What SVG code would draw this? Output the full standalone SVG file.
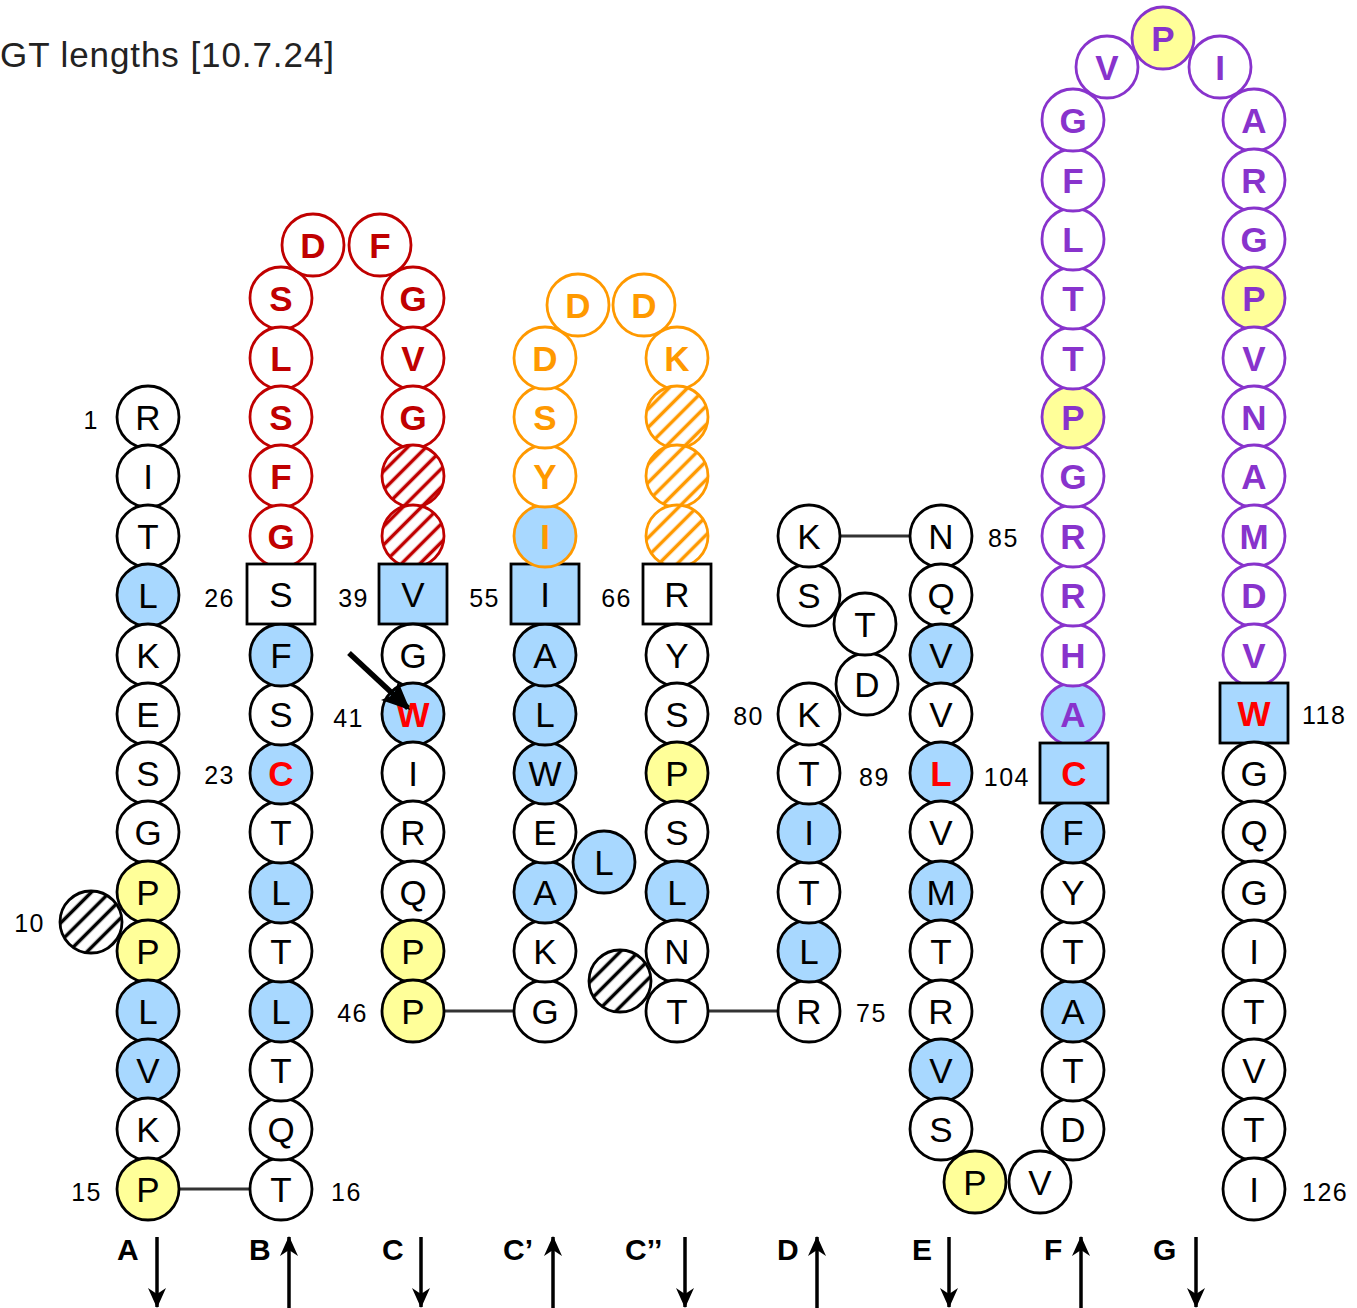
<svg xmlns="http://www.w3.org/2000/svg" width="1357" height="1308" viewBox="0 0 1357 1308">
<style>
text{font-family:"Liberation Sans",Arial,sans-serif}
.n circle,.n rect{stroke:#000;stroke-width:2.8;fill:#fff}
.n .fb{fill:#a8d8ff}
.n .fy{fill:#ffff99}
.n .sr{stroke:#c00000}
.n .so{stroke:#ff9900}
.n .sp{stroke:#8833cc}
.n .hk{fill:url(#hk)}
.n .hr{fill:url(#hr)}
.n .ho{fill:url(#ho)}
.n text{font-size:35px;text-anchor:middle;fill:#000}
.n .tr{fill:#ff0000;font-weight:bold}
.n .tc{fill:#c00000;font-weight:bold}
.n .to{fill:#ff9900;font-weight:bold}
.n .tp{fill:#8833cc;font-weight:bold}
.lab{font-size:25px;letter-spacing:1.5px;fill:#000}
.st{font-size:30px;font-weight:bold;fill:#000}
.cn{stroke:#333;stroke-width:3}
.ar{stroke:#000;stroke-width:3.5}
</style>
<defs>
<pattern id="hk" width="13" height="13" patternUnits="userSpaceOnUse" patternTransform="rotate(45)"><rect width="13" height="13" fill="#fff"/><line x1="6.5" y1="0" x2="6.5" y2="13" stroke="#000" stroke-width="3.5"/></pattern>
<pattern id="hr" width="13" height="13" patternUnits="userSpaceOnUse" patternTransform="rotate(45)"><rect width="13" height="13" fill="#fff"/><line x1="6.5" y1="0" x2="6.5" y2="13" stroke="#c00000" stroke-width="3.5"/></pattern>
<pattern id="ho" width="13" height="13" patternUnits="userSpaceOnUse" patternTransform="rotate(45)"><rect width="13" height="13" fill="#fff"/><line x1="6.5" y1="0" x2="6.5" y2="13" stroke="#ff9900" stroke-width="3.5"/></pattern>
<marker id="ah" viewBox="0 0 20 20" refX="19" refY="10" markerWidth="20" markerHeight="20" markerUnits="userSpaceOnUse" orient="auto"><path d="M0,1 L20,10 L0,19 L6,10 z" fill="#000"/></marker>
<marker id="ahb" viewBox="0 0 20 20" refX="18" refY="10" markerWidth="28" markerHeight="28" markerUnits="userSpaceOnUse" orient="auto"><path d="M0,1 L20,10 L0,19 L4,10 z" fill="#000"/></marker>
</defs>
<rect width="1357" height="1308" fill="#fff"/>
<text x="0" y="67" font-size="35" textLength="334" fill="#222">GT lengths [10.7.24]</text>

<g id="connectors">
<line class="cn" x1="179" y1="1189" x2="250" y2="1189"/>
<line class="cn" x1="444" y1="1011" x2="514" y2="1011"/>
<line class="cn" x1="708" y1="1011" x2="778" y2="1011"/>
<line class="cn" x1="840" y1="536" x2="910" y2="536"/>
</g>

<g id="strand-arrows">
<line class="ar" x1="157" y1="1237" x2="157" y2="1307" marker-end="url(#ah)"/>
<line class="ar" x1="289" y1="1308" x2="289" y2="1237" marker-end="url(#ah)"/>
<line class="ar" x1="421" y1="1237" x2="421" y2="1307" marker-end="url(#ah)"/>
<line class="ar" x1="553" y1="1308" x2="553" y2="1237" marker-end="url(#ah)"/>
<line class="ar" x1="685" y1="1237" x2="685" y2="1307" marker-end="url(#ah)"/>
<line class="ar" x1="817" y1="1308" x2="817" y2="1237" marker-end="url(#ah)"/>
<line class="ar" x1="949" y1="1237" x2="949" y2="1307" marker-end="url(#ah)"/>
<line class="ar" x1="1081" y1="1308" x2="1081" y2="1237" marker-end="url(#ah)"/>
<line class="ar" x1="1196" y1="1237" x2="1196" y2="1307" marker-end="url(#ah)"/>
<text class="st" x="117" y="1260">A</text>
<text class="st" x="249" y="1260">B</text>
<text class="st" x="382" y="1260">C</text>
<text class="st" x="503" y="1260">C’</text>
<text class="st" x="625" y="1260">C’’</text>
<text class="st" x="777" y="1260">D</text>
<text class="st" x="912" y="1260">E</text>
<text class="st" x="1044" y="1260">F</text>
<text class="st" x="1153" y="1260">G</text>
</g>

<g id="labels">
<text class="lab" x="99" y="429" text-anchor="end">1</text>
<text class="lab" x="235" y="607" text-anchor="end">26</text>
<text class="lab" x="235" y="784" text-anchor="end">23</text>
<text class="lab" x="45" y="932" text-anchor="end">10</text>
<text class="lab" x="102" y="1201" text-anchor="end">15</text>
<text class="lab" x="331" y="1201">16</text>
<text class="lab" x="369" y="607" text-anchor="end">39</text>
<text class="lab" x="364" y="727" text-anchor="end">41</text>
<text class="lab" x="368" y="1022" text-anchor="end">46</text>
<text class="lab" x="500" y="607" text-anchor="end">55</text>
<text class="lab" x="632" y="607" text-anchor="end">66</text>
<text class="lab" x="764" y="725" text-anchor="end">80</text>
<text class="lab" x="856" y="1022">75</text>
<text class="lab" x="859" y="786">89</text>
<text class="lab" x="1030" y="786" text-anchor="end">104</text>
<text class="lab" x="988" y="547">85</text>
<text class="lab" x="1302" y="724">118</text>
<text class="lab" x="1302" y="1201">126</text>
</g>

<g id="strand-A" class="n">
<g id="A1"><circle cx="148" cy="417" r="31"/><text x="148" y="430">R</text></g>
<g id="A2"><circle cx="148" cy="476" r="31"/><text x="148" y="489">I</text></g>
<g id="A3"><circle cx="148" cy="536" r="31"/><text x="148" y="549">T</text></g>
<g id="A4"><circle class="fb" cx="148" cy="595" r="31"/><text x="148" y="608">L</text></g>
<g id="A5"><circle cx="148" cy="655" r="31"/><text x="148" y="668">K</text></g>
<g id="A6"><circle cx="148" cy="714" r="31"/><text x="148" y="727">E</text></g>
<g id="A7"><circle cx="148" cy="773" r="31"/><text x="148" y="786">S</text></g>
<g id="A8"><circle cx="148" cy="832" r="31"/><text x="148" y="845">G</text></g>
<g id="A10gap"><circle class="hk" cx="91" cy="922" r="31"/></g>
<g id="A9"><circle class="fy" cx="148" cy="892" r="31"/><text x="148" y="905">P</text></g>
<g id="A11"><circle class="fy" cx="148" cy="951" r="31"/><text x="148" y="964">P</text></g>
<g id="A12"><circle class="fb" cx="148" cy="1011" r="31"/><text x="148" y="1024">L</text></g>
<g id="A13"><circle class="fb" cx="148" cy="1070" r="31"/><text x="148" y="1083">V</text></g>
<g id="A14"><circle cx="148" cy="1129" r="31"/><text x="148" y="1142">K</text></g>
<g id="A15"><circle class="fy" cx="148" cy="1189" r="31"/><text x="148" y="1202">P</text></g>
</g>

<g id="strand-B" class="n">
<g id="B16"><circle cx="281" cy="1189" r="31"/><text x="281" y="1202">T</text></g>
<g id="B17"><circle cx="281" cy="1129" r="31"/><text x="281" y="1142">Q</text></g>
<g id="B18"><circle cx="281" cy="1070" r="31"/><text x="281" y="1083">T</text></g>
<g id="B19"><circle class="fb" cx="281" cy="1011" r="31"/><text x="281" y="1024">L</text></g>
<g id="B20"><circle cx="281" cy="951" r="31"/><text x="281" y="964">T</text></g>
<g id="B21"><circle class="fb" cx="281" cy="892" r="31"/><text x="281" y="905">L</text></g>
<g id="B22"><circle cx="281" cy="832" r="31"/><text x="281" y="845">T</text></g>
<g id="B23"><circle class="fb" cx="281" cy="773" r="31"/><text class="tr" x="281" y="786">C</text></g>
<g id="B24"><circle cx="281" cy="714" r="31"/><text x="281" y="727">S</text></g>
<g id="B25"><circle class="fb" cx="281" cy="655" r="31"/><text x="281" y="668">F</text></g>
</g>

<g id="cdr1" class="n">
<g id="R1"><circle class="sr" cx="281" cy="298" r="31"/><text class="tc" x="281" y="311">S</text></g>
<g id="R2"><circle class="sr" cx="281" cy="358" r="31"/><text class="tc" x="281" y="371">L</text></g>
<g id="R3"><circle class="sr" cx="281" cy="417" r="31"/><text class="tc" x="281" y="430">S</text></g>
<g id="R4"><circle class="sr" cx="281" cy="476" r="31"/><text class="tc" x="281" y="489">F</text></g>
<g id="R5"><circle class="sr" cx="281" cy="536" r="31"/><text class="tc" x="281" y="549">G</text></g>
<g id="R6"><circle class="sr" cx="313" cy="245" r="31"/><text class="tc" x="313" y="258">D</text></g>
<g id="R7"><circle class="sr" cx="380" cy="245" r="31"/><text class="tc" x="380" y="258">F</text></g>
<g id="R8"><circle class="sr" cx="413" cy="298" r="31"/><text class="tc" x="413" y="311">G</text></g>
<g id="R9"><circle class="sr" cx="413" cy="358" r="31"/><text class="tc" x="413" y="371">V</text></g>
<g id="R10"><circle class="sr" cx="413" cy="417" r="31"/><text class="tc" x="413" y="430">G</text></g>
<g id="R11"><circle class="sr hr" cx="413" cy="476" r="31"/></g>
<g id="R12"><circle class="sr hr" cx="413" cy="536" r="31"/></g>
</g>

<g id="B26"><g class="n"><rect x="247" y="564" width="68" height="60"/><text x="281" y="607">S</text></g></g>

<g id="strand-C" class="n">
<g id="C39"><rect class="fb" x="379" y="564" width="68" height="60"/><text x="413" y="607">V</text></g>
<g id="C40"><circle cx="413" cy="655" r="31"/><text x="413" y="668">G</text></g>
<g id="C41"><circle class="fb" cx="413" cy="714" r="31"/><text class="tr" x="413" y="727">W</text></g>
<g id="C42"><circle cx="413" cy="773" r="31"/><text x="413" y="786">I</text></g>
<g id="C43"><circle cx="413" cy="832" r="31"/><text x="413" y="845">R</text></g>
<g id="C44"><circle cx="413" cy="892" r="31"/><text x="413" y="905">Q</text></g>
<g id="C45"><circle class="fy" cx="413" cy="951" r="31"/><text x="413" y="964">P</text></g>
<g id="C46"><circle class="fy" cx="413" cy="1011" r="31"/><text x="413" y="1024">P</text></g>
</g>

<g id="strand-Cp" class="n">
<g id="Cp47"><circle cx="545" cy="1011" r="31"/><text x="545" y="1024">G</text></g>
<g id="Cp48"><circle cx="545" cy="951" r="31"/><text x="545" y="964">K</text></g>
<g id="Cp49"><circle class="fb" cx="545" cy="892" r="31"/><text x="545" y="905">A</text></g>
<g id="Cp50"><circle cx="545" cy="832" r="31"/><text x="545" y="845">E</text></g>
<g id="Cp49a"><circle class="fb" cx="604" cy="862" r="31"/><text x="604" y="875">L</text></g>
<g id="Cp51"><circle class="fb" cx="545" cy="773" r="31"/><text x="545" y="786">W</text></g>
<g id="Cp52"><circle class="fb" cx="545" cy="714" r="31"/><text x="545" y="727">L</text></g>
<g id="Cp53"><circle class="fb" cx="545" cy="655" r="31"/><text x="545" y="668">A</text></g>
<g id="Cp55"><rect class="fb" x="511" y="564" width="68" height="60"/><text x="545" y="607">I</text></g>
</g>

<g id="cdr2" class="n">
<g id="O1"><circle class="so fb" cx="545" cy="536" r="31"/><text class="to" x="545" y="549">I</text></g>
<g id="O2"><circle class="so" cx="545" cy="476" r="31"/><text class="to" x="545" y="489">Y</text></g>
<g id="O3"><circle class="so" cx="545" cy="417" r="31"/><text class="to" x="545" y="430">S</text></g>
<g id="O4"><circle class="so" cx="545" cy="358" r="31"/><text class="to" x="545" y="371">D</text></g>
<g id="O5"><circle class="so" cx="578" cy="305" r="31"/><text class="to" x="578" y="318">D</text></g>
<g id="O6"><circle class="so" cx="644" cy="305" r="31"/><text class="to" x="644" y="318">D</text></g>
<g id="O7"><circle class="so" cx="677" cy="358" r="31"/><text class="to" x="677" y="371">K</text></g>
<g id="O8"><circle class="so ho" cx="677" cy="417" r="31"/></g>
<g id="O9"><circle class="so ho" cx="677" cy="476" r="31"/></g>
<g id="O10"><circle class="so ho" cx="677" cy="536" r="31"/></g>
</g>

<g id="strand-Cpp" class="n">
<g id="Cpp66"><rect x="643" y="564" width="68" height="60"/><text x="677" y="607">R</text></g>
<g id="Cpp67"><circle cx="677" cy="655" r="31"/><text x="677" y="668">Y</text></g>
<g id="Cpp68"><circle cx="677" cy="714" r="31"/><text x="677" y="727">S</text></g>
<g id="Cpp69"><circle class="fy" cx="677" cy="773" r="31"/><text x="677" y="786">P</text></g>
<g id="Cpp70"><circle cx="677" cy="832" r="31"/><text x="677" y="845">S</text></g>
<g id="Cpp71"><circle class="fb" cx="677" cy="892" r="31"/><text x="677" y="905">L</text></g>
<g id="Cpp72"><circle cx="677" cy="951" r="31"/><text x="677" y="964">N</text></g>
<g id="Cpp73"><circle class="hk" cx="620" cy="981" r="31"/></g>
<g id="Cpp74"><circle cx="677" cy="1011" r="31"/><text x="677" y="1024">T</text></g>
</g>

<g id="strand-D" class="n">
<g id="D75"><circle cx="809" cy="1011" r="31"/><text x="809" y="1024">R</text></g>
<g id="D76"><circle class="fb" cx="809" cy="951" r="31"/><text x="809" y="964">L</text></g>
<g id="D77"><circle cx="809" cy="892" r="31"/><text x="809" y="905">T</text></g>
<g id="D78"><circle class="fb" cx="809" cy="832" r="31"/><text x="809" y="845">I</text></g>
<g id="D79"><circle cx="809" cy="773" r="31"/><text x="809" y="786">T</text></g>
<g id="D80"><circle cx="809" cy="714" r="31"/><text x="809" y="727">K</text></g>
<g id="D81"><circle cx="867" cy="684" r="31"/><text x="867" y="697">D</text></g>
<g id="D82"><circle cx="865" cy="624" r="31"/><text x="865" y="637">T</text></g>
<g id="D83"><circle cx="809" cy="595" r="31"/><text x="809" y="608">S</text></g>
<g id="D84"><circle cx="809" cy="536" r="31"/><text x="809" y="549">K</text></g>
</g>

<g id="strand-E" class="n">
<g id="E85"><circle cx="941" cy="536" r="31"/><text x="941" y="549">N</text></g>
<g id="E86"><circle cx="941" cy="595" r="31"/><text x="941" y="608">Q</text></g>
<g id="E87"><circle class="fb" cx="941" cy="655" r="31"/><text x="941" y="668">V</text></g>
<g id="E88"><circle cx="941" cy="714" r="31"/><text x="941" y="727">V</text></g>
<g id="E89"><circle class="fb" cx="941" cy="773" r="31"/><text class="tr" x="941" y="786">L</text></g>
<g id="E90"><circle cx="941" cy="832" r="31"/><text x="941" y="845">V</text></g>
<g id="E91"><circle class="fb" cx="941" cy="892" r="31"/><text x="941" y="905">M</text></g>
<g id="E92"><circle cx="941" cy="951" r="31"/><text x="941" y="964">T</text></g>
<g id="E93"><circle cx="941" cy="1011" r="31"/><text x="941" y="1024">R</text></g>
<g id="E94"><circle class="fb" cx="941" cy="1070" r="31"/><text x="941" y="1083">V</text></g>
<g id="E95"><circle cx="941" cy="1129" r="31"/><text x="941" y="1142">S</text></g>
<g id="E96"><circle class="fy" cx="975" cy="1182" r="31"/><text x="975" y="1195">P</text></g>
<g id="E97"><circle cx="1040" cy="1182" r="31"/><text x="1040" y="1195">V</text></g>
</g>

<g id="strand-F" class="n">
<g id="F98"><circle cx="1073" cy="1129" r="31"/><text x="1073" y="1142">D</text></g>
<g id="F99"><circle cx="1073" cy="1070" r="31"/><text x="1073" y="1083">T</text></g>
<g id="F100"><circle class="fb" cx="1073" cy="1011" r="31"/><text x="1073" y="1024">A</text></g>
<g id="F101"><circle cx="1073" cy="951" r="31"/><text x="1073" y="964">T</text></g>
<g id="F102"><circle cx="1073" cy="892" r="31"/><text x="1073" y="905">Y</text></g>
<g id="F103"><circle class="fb" cx="1073" cy="832" r="31"/><text x="1073" y="845">F</text></g>
</g>

<g id="cdr3" class="n">
<g id="P1"><circle class="sp fb" cx="1073" cy="714" r="31"/><text class="tp" x="1073" y="727">A</text></g>
<g id="P2"><circle class="sp" cx="1073" cy="655" r="31"/><text class="tp" x="1073" y="668">H</text></g>
<g id="P3"><circle class="sp" cx="1073" cy="595" r="31"/><text class="tp" x="1073" y="608">R</text></g>
<g id="P4"><circle class="sp" cx="1073" cy="536" r="31"/><text class="tp" x="1073" y="549">R</text></g>
<g id="P5"><circle class="sp" cx="1073" cy="476" r="31"/><text class="tp" x="1073" y="489">G</text></g>
<g id="P6"><circle class="sp fy" cx="1073" cy="417" r="31"/><text class="tp" x="1073" y="430">P</text></g>
<g id="P7"><circle class="sp" cx="1073" cy="358" r="31"/><text class="tp" x="1073" y="371">T</text></g>
<g id="P8"><circle class="sp" cx="1073" cy="298" r="31"/><text class="tp" x="1073" y="311">T</text></g>
<g id="P9"><circle class="sp" cx="1073" cy="239" r="31"/><text class="tp" x="1073" y="252">L</text></g>
<g id="P10"><circle class="sp" cx="1073" cy="180" r="31"/><text class="tp" x="1073" y="193">F</text></g>
<g id="P11"><circle class="sp" cx="1073" cy="120" r="31"/><text class="tp" x="1073" y="133">G</text></g>
<g id="P12"><circle class="sp" cx="1107" cy="67" r="31"/><text class="tp" x="1107" y="80">V</text></g>
<g id="P13"><circle class="sp fy" cx="1163" cy="38" r="31"/><text class="tp" x="1163" y="51">P</text></g>
<g id="P14"><circle class="sp" cx="1220" cy="67" r="31"/><text class="tp" x="1220" y="80">I</text></g>
<g id="P15"><circle class="sp" cx="1254" cy="120" r="31"/><text class="tp" x="1254" y="133">A</text></g>
<g id="P16"><circle class="sp" cx="1254" cy="180" r="31"/><text class="tp" x="1254" y="193">R</text></g>
<g id="P17"><circle class="sp" cx="1254" cy="239" r="31"/><text class="tp" x="1254" y="252">G</text></g>
<g id="P18"><circle class="sp fy" cx="1254" cy="298" r="31"/><text class="tp" x="1254" y="311">P</text></g>
<g id="P19"><circle class="sp" cx="1254" cy="358" r="31"/><text class="tp" x="1254" y="371">V</text></g>
<g id="P20"><circle class="sp" cx="1254" cy="417" r="31"/><text class="tp" x="1254" y="430">N</text></g>
<g id="P21"><circle class="sp" cx="1254" cy="476" r="31"/><text class="tp" x="1254" y="489">A</text></g>
<g id="P22"><circle class="sp" cx="1254" cy="536" r="31"/><text class="tp" x="1254" y="549">M</text></g>
<g id="P23"><circle class="sp" cx="1254" cy="595" r="31"/><text class="tp" x="1254" y="608">D</text></g>
<g id="P24"><circle class="sp" cx="1254" cy="655" r="31"/><text class="tp" x="1254" y="668">V</text></g>
</g>

<g id="F104"><g class="n"><rect class="fb" x="1040" y="743" width="68" height="60"/><text class="tr" x="1074" y="786">C</text></g></g>

<g id="strand-G" class="n">
<g id="G118"><rect class="fb" x="1220" y="683" width="68" height="60"/><text class="tr" x="1254" y="726">W</text></g>
<g id="G119"><circle cx="1254" cy="773" r="31"/><text x="1254" y="786">G</text></g>
<g id="G120"><circle cx="1254" cy="832" r="31"/><text x="1254" y="845">Q</text></g>
<g id="G121"><circle cx="1254" cy="892" r="31"/><text x="1254" y="905">G</text></g>
<g id="G122"><circle cx="1254" cy="951" r="31"/><text x="1254" y="964">I</text></g>
<g id="G123"><circle cx="1254" cy="1011" r="31"/><text x="1254" y="1024">T</text></g>
<g id="G124"><circle cx="1254" cy="1070" r="31"/><text x="1254" y="1083">V</text></g>
<g id="G125"><circle cx="1254" cy="1129" r="31"/><text x="1254" y="1142">T</text></g>
<g id="G126"><circle cx="1254" cy="1189" r="31"/><text x="1254" y="1202">I</text></g>
</g>

<g id="pointer">
<line x1="349" y1="653" x2="408" y2="708" stroke="#000" stroke-width="5.5" marker-end="url(#ahb)"/>
</g>
</svg>
